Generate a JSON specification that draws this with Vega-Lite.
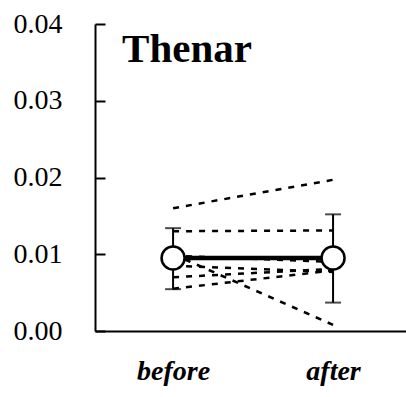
{
  "$schema": "https://vega.github.io/schema/vega-lite/v6.json",
  "width": 311,
  "height": 307,
  "autosize": {"type": "none"},
  "padding": {"left": 95, "top": 24, "right": 0, "bottom": 66},
  "background": "white",
  "datasets": {
    "indiv": [
      {"subject": "s1", "phase": "before", "value": 0.0160},
      {"subject": "s1", "phase": "after", "value": 0.0197},
      {"subject": "s2", "phase": "before", "value": 0.0130},
      {"subject": "s2", "phase": "after", "value": 0.0131},
      {"subject": "s3", "phase": "before", "value": 0.0100},
      {"subject": "s3", "phase": "after", "value": 0.0008},
      {"subject": "s4", "phase": "before", "value": 0.0098},
      {"subject": "s4", "phase": "after", "value": 0.0090},
      {"subject": "s5", "phase": "before", "value": 0.0085},
      {"subject": "s5", "phase": "after", "value": 0.0077},
      {"subject": "s6", "phase": "before", "value": 0.0070},
      {"subject": "s6", "phase": "after", "value": 0.0081},
      {"subject": "s7", "phase": "before", "value": 0.0055},
      {"subject": "s7", "phase": "after", "value": 0.0079}
    ],
    "summary": [
      {"phase": "before", "mean": 0.0095, "lower": 0.00545, "upper": 0.0134},
      {"phase": "after", "mean": 0.0095, "lower": 0.0037, "upper": 0.0152}
    ],
    "label": [
      {"phase": "before", "value": 0.035, "text": "Thenar"}
    ]
  },
  "encoding": {
    "x": {
      "field": "phase",
      "type": "nominal",
      "sort": ["before", "after"],
      "scale": {"type": "point", "padding": 0.472, "align": 0.517},
      "axis": {
        "title": null,
        "ticks": false,
        "labelAngle": 0,
        "labelFont": "Liberation Serif",
        "labelFontSize": 28,
        "labelFontStyle": "italic",
        "labelFontWeight": "bold",
        "labelColor": "black",
        "labelPadding": 26,
        "domainColor": "black",
        "domainWidth": 2,
        "grid": false
      }
    }
  },
  "layer": [
    {
      "data": {"name": "indiv"},
      "mark": {"type": "line", "color": "black", "strokeWidth": 2.5, "strokeDash": [6, 7]},
      "encoding": {
        "y": {
          "field": "value",
          "type": "quantitative",
          "scale": {"domain": [0, 0.04], "nice": false, "zero": true},
          "axis": {
            "title": null,
            "values": [0, 0.01, 0.02, 0.03, 0.04],
            "format": ".2f",
            "tickSize": -10,
            "tickColor": "black",
            "tickWidth": 2,
            "labelFont": "Liberation Serif",
            "labelFontSize": 28,
            "labelColor": "black",
            "labelPadding": 43,
            "domainColor": "black",
            "domainWidth": 2,
            "grid": false
          }
        },
        "detail": {"field": "subject"}
      }
    },
    {
      "data": {"name": "summary"},
      "mark": {"type": "rule", "color": "black", "strokeWidth": 2},
      "encoding": {
        "y": {"field": "lower", "type": "quantitative"},
        "y2": {"field": "upper"}
      }
    },
    {
      "data": {"name": "summary"},
      "mark": {"type": "tick", "orient": "horizontal", "color": "black", "size": 16, "thickness": 2},
      "encoding": {"y": {"field": "lower", "type": "quantitative"}}
    },
    {
      "data": {"name": "summary"},
      "mark": {"type": "tick", "orient": "horizontal", "color": "black", "size": 16, "thickness": 2},
      "encoding": {"y": {"field": "upper", "type": "quantitative"}}
    },
    {
      "data": {"name": "summary"},
      "mark": {"type": "line", "color": "black", "strokeWidth": 4.5},
      "encoding": {"y": {"field": "mean", "type": "quantitative"}}
    },
    {
      "data": {"name": "summary"},
      "mark": {"type": "point", "shape": "circle", "filled": true, "fill": "white", "stroke": "black", "strokeWidth": 2.5, "size": 530, "opacity": 1},
      "encoding": {"y": {"field": "mean", "type": "quantitative"}}
    },
    {
      "data": {"name": "label"},
      "mark": {"type": "text", "align": "left", "baseline": "alphabetic", "dx": -51, "font": "Liberation Serif", "fontSize": 41, "fontWeight": "bold", "color": "black"},
      "encoding": {
        "y": {"field": "value", "type": "quantitative"},
        "text": {"field": "text"}
      }
    }
  ],
  "config": {
    "view": {"stroke": null}
  }
}
